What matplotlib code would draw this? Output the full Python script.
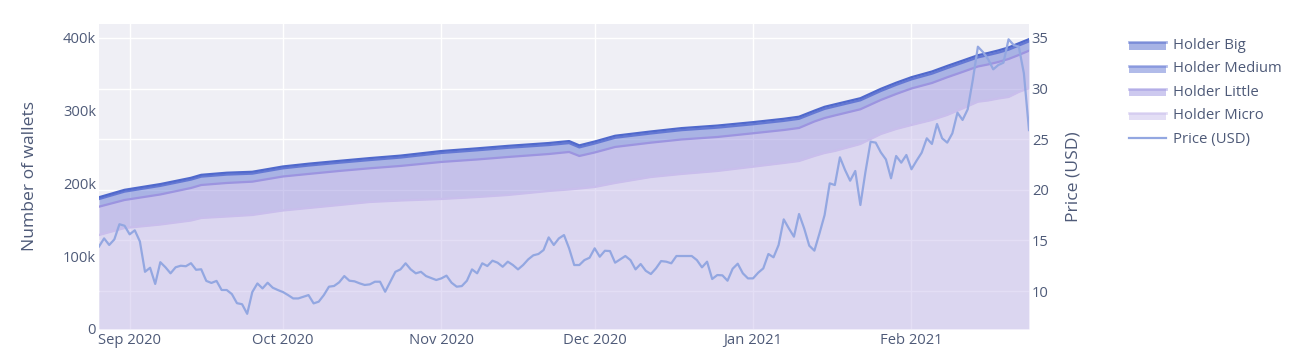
import matplotlib.pyplot as plt
import matplotlib.dates as mdates
from matplotlib.patches import Patch, Rectangle
from matplotlib.lines import Line2D
import numpy as np
import pandas as pd

plt.rcParams['font.family'] = ['Open Sans', 'DejaVu Sans']

# holders (thousands of wallets)
holder_dates = ['2020-08-26', '2020-08-31', '2020-09-07', '2020-09-13', '2020-09-15', '2020-09-20',
                '2020-09-25', '2020-10-01', '2020-10-06', '2020-10-12', '2020-10-18', '2020-10-24',
                '2020-11-01', '2020-11-08', '2020-11-14', '2020-11-22', '2020-11-26', '2020-11-28',
                '2020-12-01', '2020-12-05', '2020-12-12', '2020-12-18', '2020-12-25', '2021-01-01',
                '2021-01-07', '2021-01-10', '2021-01-13', '2021-01-15', '2021-01-17', '2021-01-22',
                '2021-01-26', '2021-01-29', '2021-02-01', '2021-02-05', '2021-02-08', '2021-02-11',
                '2021-02-14', '2021-02-16', '2021-02-18', '2021-02-20', '2021-02-22', '2021-02-24']
micro = [129.2, 138.8, 143.6, 149.1, 152.6, 154.6, 156.7, 162.9, 166.3, 170.4, 174.6, 176.6,
         178.7, 181.4, 184.2, 189.7, 191.8, 193.1, 195.2, 200.7, 208.9, 213.1, 217.2, 223.1,
         228.2, 230.9, 237.8, 241.9, 244.7, 254.3, 268.0, 274.9, 280.4, 287.3, 294.2, 303.1,
         312.4, 314.1, 316.8, 318.9, 325.8, 330.9]
little = [38.9, 38.5, 41.3, 44.7, 45.3, 46.1, 45.8, 46.7, 46.8, 46.8, 46.3, 47.5,
          50.9, 51.6, 52.2, 50.8, 51.5, 44.7, 47.4, 49.5, 47.2, 47.4, 46.7, 45.9,
          45.3, 45.4, 47.4, 48.1, 48.8, 47.7, 46.8, 48.1, 50.2, 50.8, 51.8, 50.2,
          48.4, 49.5, 50.2, 52.2, 50.8, 51.6]
medium = [10.5, 11.5, 11.8, 11.5, 11.5, 11.5, 11.0, 11.2, 11.5, 11.3, 11.3, 11.5,
          12.3, 12.6, 12.6, 12.3, 12.2, 11.8, 12.3, 12.6, 12.6, 12.8, 12.8, 12.4,
          12.5, 12.6, 12.0, 12.5, 12.4, 12.3, 12.3, 12.5, 12.5, 12.8, 12.6, 12.6,
          12.5, 12.8, 12.8, 12.8, 13.0, 12.8]
big = [2.5, 2.5, 2.5, 2.5, 2.5, 2.6, 2.6, 2.6, 2.6, 2.6, 2.7, 2.7, 2.7, 2.7,
       2.7, 2.8, 2.8, 2.8, 2.8, 2.8, 2.8, 2.8, 2.9, 2.9, 2.9, 2.9, 2.9, 2.9,
       2.9, 2.9, 3.0, 3.0, 3.0, 3.0, 3.0, 3.0, 3.0, 3.0, 3.1, 3.1, 3.1, 3.1]

# daily price (USD) from 2020-08-26
price_start = '2020-08-26'
price = [14.4, 15.2, 14.55, 15.1, 16.6, 16.45, 15.6, 16.0, 14.9, 11.9,
         12.3, 10.7, 12.85, 12.35, 11.75, 12.35, 12.5, 12.45, 12.75, 12.1,
         12.15, 11.0, 10.8, 11.0, 10.1, 10.1, 9.7, 8.8, 8.7, 7.75,
         9.9, 10.75, 10.26, 10.82, 10.33, 10.1, 9.9, 9.6, 9.27, 9.27,
         9.44, 9.6, 8.78, 8.95, 9.6, 10.43, 10.5, 10.86, 11.48, 11.02,
         10.96, 10.76, 10.6, 10.66, 10.92, 10.92, 9.93, 10.92, 11.9, 12.14,
         12.74, 12.14, 11.75, 11.9, 11.48, 11.28, 11.09, 11.25, 11.52, 10.82,
         10.43, 10.49, 11.02, 12.14, 11.75, 12.74, 12.47, 13.0, 12.8, 12.4,
         12.9, 12.57, 12.14, 12.57, 13.13, 13.53, 13.66, 14.05, 15.3, 14.55,
         15.2, 15.53, 14.22, 12.57, 12.57, 13.06, 13.29, 14.22, 13.39, 13.98,
         13.95, 12.8, 13.13, 13.46, 13.06, 12.14, 12.67, 12.0, 11.68, 12.24,
         12.96, 12.9, 12.74, 13.46, 13.46, 13.46, 13.46, 13.06, 12.34, 12.9,
         11.19, 11.58, 11.55, 11.02, 12.2, 12.7, 11.75, 11.25, 11.25, 11.81,
         12.24, 13.66, 13.33, 14.55, 17.08, 16.19, 15.37, 17.61, 16.19, 14.48,
         13.99, 15.7, 17.51, 20.64, 20.47, 23.21, 21.96, 20.9, 21.86, 18.5,
         21.79, 24.75, 24.66, 23.7, 23.0, 21.14, 23.34, 22.68, 23.44, 22.03,
         22.88, 23.67, 25.09, 24.53, 26.5, 25.09, 24.66, 25.58, 27.62, 26.9,
         27.95, 30.85, 34.14, 33.6, 32.9, 31.9, 32.33, 32.56, 34.87, 34.3,
         34.14, 31.5, 25.9]

series_names = ['Holder Micro', 'Holder Little', 'Holder Medium', 'Holder Big']
series_colors = ['#C9BEEC', '#9C94E0', '#6478D4', '#5069CC']
price_color = '#93A7E1'
bg = '#EFEFF5'
text_color = '#4e5a78'

wallet_ticks = [0, 100, 200, 300, 400]
wallet_labels = ['0', '100k', '200k', '300k', '400k']
price_ticks = [10, 15, 20, 25, 30, 35]

hdates = pd.to_datetime(holder_dates)
pdates = pd.date_range(price_start, periods=len(price), freq='D')

fig = plt.figure(figsize=(12.94, 3.57), dpi=100)
ax = fig.add_axes([99 / 1294, 1 - 329 / 357, 930 / 1294, 305 / 357])
ax_r = ax.twinx()   # price scale + grid, under the areas
ax_p = ax.twinx()   # price line, over the areas

ax_r.set_zorder(1)
ax_r.patch.set_visible(True)
ax_r.patch.set_facecolor(bg)
ax.set_zorder(2)
ax.patch.set_visible(False)
ax_p.set_zorder(3)
ax_p.patch.set_visible(False)

# stacked areas
bottom = np.zeros(len(hdates))
for vals, name, col in zip([micro, little, medium, big], series_names, series_colors):
    top = bottom + np.array(vals)
    ax.fill_between(hdates, bottom, top, color=col, alpha=0.5, lw=0)
    ax.plot(hdates, top, color=col, lw=1.6)
    bottom = top

ax_p.plot(pdates, price, color=price_color, lw=1.6)

ax.set_xlim(pdates[0], pdates[-1])
ax.set_ylim(0, 419.2)
ax.set_yticks(wallet_ticks)
ax.set_yticklabels(wallet_labels)
ax.xaxis.set_major_locator(mdates.MonthLocator())
ax.xaxis.set_major_formatter(mdates.DateFormatter('%b %Y'))
ax.grid(axis='x', color='white', lw=1.0)
ax.set_axisbelow(True)
ax.tick_params(length=0, colors=text_color, labelsize=10.6, pad=2)
ax.tick_params(axis='x', pad=3)
ax.set_ylabel('Number of wallets', fontsize=12.6, color=text_color)
ax.yaxis.set_label_coords(-0.066, 0.5)

for a in (ax_r, ax_p):
    a.set_ylim(6.25, 36.38)
ax_r.set_yticks(price_ticks)
ax_r.grid(axis='y', color='white', lw=1.0)
ax_r.tick_params(length=0, colors=text_color, labelsize=10.6, pad=2)
ax_r.set_ylabel('Price (USD)', fontsize=12.6, color=text_color)
ax_r.yaxis.set_label_coords(1.039, 0.5)
ax_p.set_yticks([])

for a in (ax, ax_r, ax_p):
    for s in a.spines.values():
        s.set_visible(False)


class FillLineHandler:
    def legend_artist(self, legend, orig_handle, fontsize, handlebox):
        x0, y0 = handlebox.xdescent, handlebox.ydescent
        w, h = handlebox.width, handlebox.height
        tr = handlebox.get_transform()
        rect = Rectangle((x0, y0), w, h * 0.75, facecolor=orig_handle.get_facecolor(),
                         edgecolor='none', transform=tr)
        line = Line2D([x0, x0 + w], [y0 + h * 0.75] * 2, color=orig_handle.get_edgecolor(),
                      lw=2.0, transform=tr)
        handlebox.add_artist(rect)
        handlebox.add_artist(line)
        return rect


handles = [Patch(facecolor=c, edgecolor=c, alpha=0.5) for c in series_colors[::-1]]
for hd, c in zip(handles, series_colors[::-1]):
    hd.set_edgecolor(c)
handles.append(Line2D([], [], color=price_color, lw=1.6))
labels = series_names[::-1] + ['Price (USD)']
leg = fig.legend(handles, labels, loc='upper left', bbox_to_anchor=(1129 / 1294, 1 - 38 / 357),
                 frameon=False, fontsize=10.7, handlelength=2.5, handleheight=0.6,
                 handletextpad=0.45, labelspacing=0.57, borderpad=0, borderaxespad=0,
                 handler_map={Patch: FillLineHandler()})
for t in leg.get_texts():
    t.set_color(text_color)

fig.savefig('out.png', dpi=100, facecolor='white')
